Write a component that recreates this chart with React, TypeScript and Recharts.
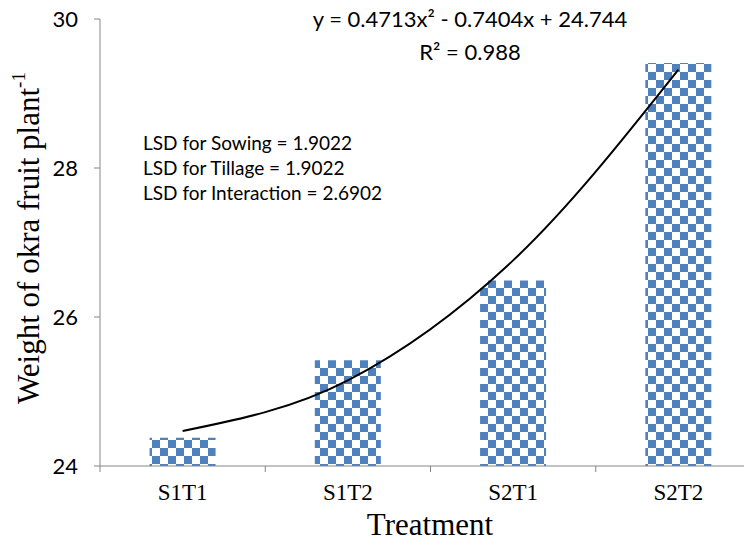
import { ComposedChart, Bar, Line, XAxis, YAxis } from "recharts";

const categories = ["S1T1", "S1T2", "S2T1", "S2T2"];
const weights = [24.38, 25.42, 26.49, 29.41];
const trendValues = [24.47, 25.15, 26.76, 29.32];
const yTicks = [24, 26, 28, 30];
const lsdLines = ["LSD for Sowing = 1.9022", "LSD for Tillage = 1.9022", "LSD for Interaction = 2.6902"];

const data = categories.map((name, i) => ({ name, weight: weights[i], trend: trendValues[i] }));

const BLUE = "#4F81BD";
const AXIS = "#868686";
const SERIF = '"Liberation Serif", "Times New Roman", serif';
const SANS = 'Lato, "Liberation Sans", sans-serif';

// label in the middle of the band, tick mark on the band's left edge (Excel style)
function CategoryTick(props: any) {
    const { x, y, payload } = props;
    const half = payload?.offset ?? 0;
    return (
        <g>
            <line x1={x - half} x2={x - half} y1={y} y2={y + 6} stroke={AXIS} strokeWidth={1} />
            <text x={x} y={y + 34} textAnchor="middle" fontFamily={SERIF} fontSize={23} fill="#000">
                {payload.value}
            </text>
        </g>
    );
}

export default function App() {
    return (
        <div style={{ position: "absolute", left: 0, top: 0, width: 744, height: 551, overflow: "hidden", background: "#fff" }}>
            <ComposedChart
                width={780}
                height={551}
                data={data}
                margin={{ top: 19, right: 19, bottom: 0, left: 0 }}
                barCategoryGap="30%"
            >
                <defs>
                    <pattern id="checker" width={16} height={16} patternUnits="userSpaceOnUse">
                        <rect x={0} y={0} width={16} height={16} fill="#fff" />
                        <rect x={0} y={0} width={8} height={8} fill={BLUE} />
                        <rect x={8} y={8} width={8} height={8} fill={BLUE} />
                    </pattern>
                </defs>
                <XAxis
                    dataKey="name"
                    height={85}
                    interval={0}
                    tickLine={false}
                    tickSize={0}
                    tickMargin={0}
                    stroke={AXIS}
                    tick={<CategoryTick />}
                />
                <YAxis
                    width={100}
                    domain={[24, 30]}
                    ticks={yTicks}
                    allowDataOverflow
                    tickSize={6}
                    tickMargin={16}
                    stroke={AXIS}
                    tick={{ fill: "#000", fontSize: 22, fontFamily: SANS }}
                />
                <Bar dataKey="weight" fill="url(#checker)" isAnimationActive={false} />
                <Line
                    dataKey="trend"
                    type="monotone"
                    stroke="#000"
                    strokeWidth={2}
                    dot={false}
                    activeDot={false}
                    isAnimationActive={false}
                />
            </ComposedChart>
            <svg
                width={744}
                height={551}
                style={{ position: "absolute", left: 0, top: 0, pointerEvents: "none" }}
            >
                <text x={470} y={27} textAnchor="middle" fontFamily={SANS} fontSize={22} fill="#000">
                    y = 0.4713x² - 0.7404x + 24.744
                </text>
                <text x={470} y={60} textAnchor="middle" fontFamily={SANS} fontSize={22} fill="#000">
                    R² = 0.988
                </text>
                {lsdLines.map((t, i) => (
                    <text key={t} x={143} y={150 + i * 25} fontFamily={SANS} fontSize={19} fill="#000">
                        {t}
                    </text>
                ))}
                <text
                    x={28}
                    y={238}
                    transform="rotate(-90, 28, 238)"
                    textAnchor="middle"
                    dominantBaseline="central"
                    fontFamily={SERIF}
                    fontSize={31}
                    fill="#000"
                >
                    Weight of okra fruit plant
                    <tspan dy={-10} fontSize={19}>-1</tspan>
                </text>
                <text x={430} y={535} textAnchor="middle" fontFamily={SERIF} fontSize={31} fill="#000">
                    Treatment
                </text>
            </svg>
        </div>
    );
}
